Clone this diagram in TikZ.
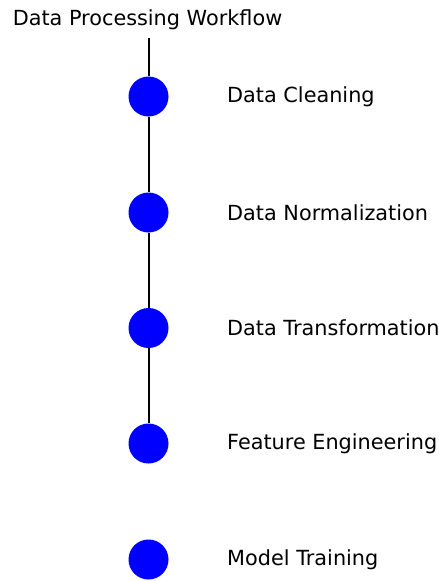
\documentclass[tikz,border=0pt]{standalone}
\usepackage{fontspec}
\setmainfont{DejaVu Sans}
\begin{document}
\begin{tikzpicture}[x=1pt, y=-1pt]
	\tikzset{stage/.style={shape=circle, fill=blue, minimum size=40pt, inner sep=0pt}, stagelabel/.style={anchor=west, inner sep=0pt, font=\fontsize{20.8pt}{24pt}\selectfont}}
	\useasboundingbox (0, 0) rectangle (439, 581);
	% Paths, nodes and wires:
	\node[anchor=center, inner sep=0pt, font=\fontsize{20.8pt}{24pt}\selectfont] (title) at (147.5, 20){Data Processing Workflow};
	\coordinate (top) at (148.5, 38);
	\node[stage] (c1) at (148.5, 96.5){} node[stagelabel] (l1) at (227, 96.5){Data Cleaning};
	\node[stage] (c2) at (148.5, 212.5){} node[stagelabel] (l2) at (227, 212.5){Data Normalization};
	\node[stage] (c3) at (148.5, 328){} node[stagelabel] (l3) at (227, 328){Data Transformation};
	\node[stage] (c4) at (148.5, 443.5){} node[stagelabel] (l4) at (227, 443.5){Feature Engineering};
	\node[stage] (c5) at (148.5, 559.5){} node[stagelabel] (l5) at (227, 559.5){Model Training};
	\draw[line width=2pt] (top) -- (c1.north) (c1.south) -- (c2.north) (c2.south) -- (c3.north) (c3.south) -- (c4.north);
\end{tikzpicture}
\end{document}
